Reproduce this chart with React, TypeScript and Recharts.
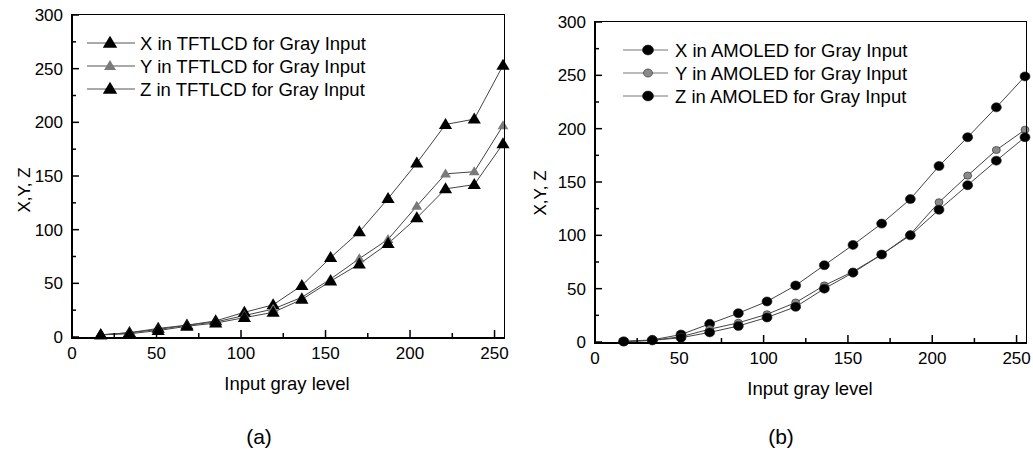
import React from 'react';
import { LineChart, Line, XAxis, YAxis, Legend } from 'recharts';

// gray input levels (same for both panels)
const levels = [17, 34, 51, 68, 85, 102, 119, 136, 153, 170, 187, 204, 221, 238, 255];

// (a) TFTLCD
const tftX = [2, 4, 8, 11, 15, 23, 30, 48, 74, 98, 129, 162, 198, 203, 253];
const tftY = [2, 4, 7, 11, 14, 20, 26, 37, 54, 73, 91, 122, 152, 154, 197];
const tftZ = [2, 3, 6, 10, 13, 18, 23, 35, 52, 68, 87, 111, 138, 142, 180];

// (b) AMOLED
const amoX = [0.5, 2, 7, 17, 27, 38, 53, 72, 91, 111, 134, 165, 192, 220, 249];
const amoY = [0.5, 1.5, 5, 12, 18, 26, 37, 53, 66, 82, 101, 131, 156, 180, 199];
const amoZ = [0.5, 1.5, 4, 9, 15, 23, 33, 50, 65, 82, 100, 124, 147, 170, 192];

const xTicks = [0, 25, 50, 75, 100, 125, 150, 175, 200, 225, 250];
const yTicks = [0, 25, 50, 75, 100, 125, 150, 175, 200, 225, 250, 275, 300];

const tftLabels = ['X in TFTLCD for Gray Input', 'Y in TFTLCD for Gray Input', 'Z in TFTLCD for Gray Input'];
const amoLabels = ['X in AMOLED for Gray Input', 'Y in AMOLED for Gray Input', 'Z in AMOLED for Gray Input'];

const FONT = '"Liberation Sans", Arial, sans-serif';

const makeRows = (xs: number[], ys: number[], zs: number[]) =>
  levels.map((lv, i) => ({ level: lv, X: xs[i], Y: ys[i], Z: zs[i] }));

const tftData = makeRows(tftX, tftY, tftZ);
const amoData = makeRows(amoX, amoY, amoZ);

// ticks point inward, minor ticks shorter, labels only on majors
const BottomTick = ({ x, y, payload }: any) => {
  const v = payload.value;
  const major = v % 50 === 0;
  const px = Number(x);
  const py = Number(y);
  return (
    <g>
      <line x1={px} x2={px} y1={py} y2={py - (major ? 7 : 4)} stroke="#000" strokeWidth={1.5} />
      {major && (
        <text x={px} y={py + 22} textAnchor="middle" fontSize={17} fontFamily={FONT} fill="#000">
          {v}
        </text>
      )}
    </g>
  );
};

const TopTick = ({ x, y, payload }: any) => {
  const len = payload.value % 50 === 0 ? 6 : 3;
  const px = Number(x);
  const py = Number(y);
  return <line x1={px} x2={px} y1={py} y2={py + len} stroke="#000" strokeWidth={1.2} />;
};

const LeftTick = ({ x, y, payload }: any) => {
  const v = payload.value;
  const major = v % 50 === 0;
  const px = Number(x);
  const py = Number(y);
  return (
    <g>
      <line x1={px} x2={px + (major ? 7 : 4)} y1={py} y2={py} stroke="#000" strokeWidth={1.5} />
      {major && (
        <text x={px - 9} y={py + 6} textAnchor="end" fontSize={17} fontFamily={FONT} fill="#000">
          {v}
        </text>
      )}
    </g>
  );
};

const RightTick = ({ x, y, payload }: any) => {
  const len = payload.value % 50 === 0 ? 6 : 3;
  const px = Number(x);
  const py = Number(y);
  return <line x1={px} x2={px - len} y1={py} y2={py} stroke="#000" strokeWidth={1.2} />;
};

const triangle = (fill: string, size: number) => (props: any) => {
  const { cx, cy, index } = props;
  if (cx == null || cy == null) return <g key={index} />;
  const w = size * 1.2;
  return (
    <polygon
      key={index}
      points={`${cx},${cy - size * 0.6} ${cx - w / 2},${cy + size * 0.4} ${cx + w / 2},${cy + size * 0.4}`}
      fill={fill}
    />
  );
};

const circle = (fill: string, r: number) => (props: any) => {
  const { cx, cy, index } = props;
  if (cx == null || cy == null) return <g key={index} />;
  return <ellipse key={index} cx={cx} cy={cy} rx={r} ry={r * 0.9} fill={fill} stroke="#222" strokeWidth={0.6} />;
};

const triFills = ['#000', '#7a7a7a', '#000'];
const triSizes = [11, 9, 11];
const dotFills = ['#000', '#8a8a8a', '#000'];
const dotSizes = [5, 4, 5];

const LegendBox = ({ labels, kind, lineLen, markX, textX, lineColor }: any) => (
  <svg width={320} height={72} style={{ overflow: 'visible' }}>
    {labels.map((l: string, i: number) => {
      const cy = 12 + i * 23;
      return (
        <g key={l}>
          <line x1={0} x2={lineLen} y1={cy} y2={cy} stroke={lineColor} strokeWidth={1} />
          {kind === 'tri'
            ? triangle(triFills[i], triSizes[i] + 1)({ cx: markX, cy, index: i })
            : circle(dotFills[i], dotSizes[i] + 0.5)({ cx: markX, cy, index: i })}
          <text x={textX} y={cy + 6.7} fontSize={18.5} fontFamily={FONT} fill="#000">
            {l}
          </text>
        </g>
      );
    })}
  </svg>
);

// shared props for the four frame axes
const axisBase = {
  type: 'number' as const,
  interval: 0 as const,
  tickLine: false,
  tickSize: 0,
  tickMargin: 0,
  axisLine: false,
};

const Panel = ({ data, width, height, margin, yWidth, xHeight, kind, labels, legendPos, legendProps }: any) => (
  <LineChart width={width} height={height} data={data} margin={margin}>
    <XAxis {...axisBase} dataKey="level" domain={[0, 255]} ticks={xTicks} tick={<BottomTick />} height={xHeight} />
    <XAxis {...axisBase} xAxisId="top" orientation="top" domain={[0, 255]} ticks={xTicks} tick={<TopTick />} height={1} />
    <YAxis {...axisBase} domain={[0, 300]} ticks={yTicks} tick={<LeftTick />} width={yWidth} />
    <YAxis {...axisBase} yAxisId="right" orientation="right" domain={[0, 300]} ticks={yTicks} tick={<RightTick />} width={1} />
    <Legend
      layout="vertical"
      align="center"
      verticalAlign="middle"
      wrapperStyle={{ left: legendPos.left, top: legendPos.top, width: 320 }}
      content={() => <LegendBox labels={labels} kind={kind} {...legendProps} />}
    />
    {['X', 'Y', 'Z'].map((k, i) => (
      <Line
        key={k}
        dataKey={k}
        stroke="#444"
        strokeWidth={1}
        isAnimationActive={false}
        activeDot={false}
        dot={kind === 'tri' ? triangle(triFills[i], triSizes[i]) : circle(dotFills[i], dotSizes[i])}
      />
    ))}
  </LineChart>
);

// plot box drawn with CSS borders
const boxStyle = (left: number, top: number, w: number, h: number): React.CSSProperties => ({
  position: 'absolute',
  left: left - 1,
  top: top - 1,
  width: w,
  height: h,
  borderTop: '1.5px solid #000',
  borderRight: '1.5px solid #000',
  borderBottom: '2px solid #000',
  borderLeft: '2px solid #000',
  pointerEvents: 'none',
});

const textStyle = (left: number, top: number, size: number, rotate = false): React.CSSProperties => ({
  position: 'absolute',
  left,
  top,
  fontSize: size,
  fontFamily: FONT,
  whiteSpace: 'nowrap',
  color: '#000',
  transform: `translate(-50%, -50%)${rotate ? ' rotate(-90deg)' : ''}`,
});

export default function App() {
  return (
    <div style={{ position: 'absolute', left: 0, top: 0, width: 1033, height: 454, background: '#fff' }}>
      <div style={{ position: 'absolute', left: 0, top: 0 }}>
        <Panel
          data={tftData}
          width={515}
          height={380}
          margin={{ top: 14, right: 11, bottom: 0, left: 0 }}
          yWidth={72}
          xHeight={43}
          kind="tri"
          labels={tftLabels}
          legendPos={{ left: 87, top: 31 }}
          legendProps={{ lineLen: 48, markX: 23, textX: 53, lineColor: '#555' }}
        />
      </div>
      <div style={{ position: 'absolute', left: 520, top: 0 }}>
        <Panel
          data={amoData}
          width={513}
          height={390}
          margin={{ top: 21, right: 7, bottom: 0, left: 0 }}
          yWidth={75}
          xHeight={48}
          kind="dot"
          labels={amoLabels}
          legendPos={{ left: 103, top: 38 }}
          legendProps={{ lineLen: 45, markX: 25, textX: 52, lineColor: '#777' }}
        />
      </div>
      <div style={boxStyle(72, 15, 431, 322)} />
      <div style={boxStyle(595, 22, 430, 320)} />
      <div style={textStyle(25, 190, 17, true)}>X,Y, Z</div>
      <div style={textStyle(541, 193, 17, true)}>X,Y, Z</div>
      <div style={textStyle(287, 384, 18.5)}>Input gray level</div>
      <div style={textStyle(810, 389, 18.5)}>Input gray level</div>
      <div style={textStyle(259, 437, 21)}>(a)</div>
      <div style={textStyle(781, 437, 21)}>(b)</div>
    </div>
  );
}
